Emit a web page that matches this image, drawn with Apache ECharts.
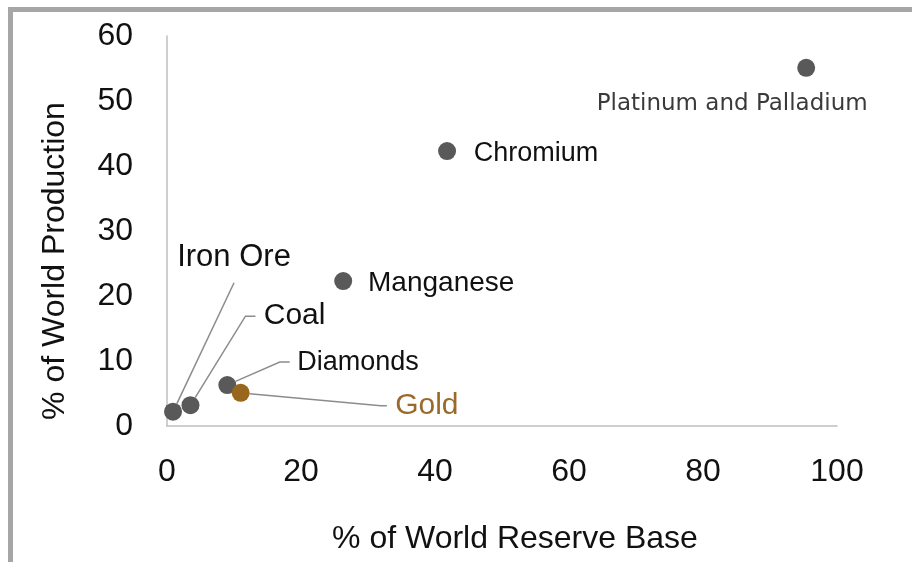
<!DOCTYPE html>
<html>
<head>
<meta charset="utf-8">
<script src="https://cdn.jsdelivr.net/npm/echarts@6/dist/echarts.min.js"></script>
<style>
  html, body { margin: 0; padding: 0; background: #ffffff; }
  #chart { width: 912px; height: 562px; }
</style>
</head>
<body>
<div id="chart"></div>
<script>
// Data
var names = ['Platinum and Palladium', 'Chromium', 'Manganese', 'Iron Ore', 'Coal', 'Diamonds', 'Gold'];
var reserveShare = [95.4, 41.8, 26.3, 0.9, 3.5, 9.0, 11.0];      // % of World Reserve Base
var productionShare = [55.1, 42.3, 22.3, 2.2, 3.2, 6.3, 5.1];    // % of World Production
var xTicks = [0, 20, 40, 60, 80, 100];
var yTicks = [0, 10, 20, 30, 40, 50, 60];
var xTitle = '% of World Reserve Base';
var yTitle = '% of World Production';

// Styling (presentation only)
var GRAY = '#595959';
var GOLD = '#98661c';
var LEADER = '#8c8c8c';
var labelStyle = {
  'Platinum and Palladium': { shift: [-74, 36], fontSize: 23, fontFamily: 'DejaVu Sans', color: '#3a3a3a', line: false },
  'Chromium':  { shift: [89, 2],    fontSize: 27, color: '#111111', line: false },
  'Manganese': { shift: [98, 2],    fontSize: 28, color: '#111111', line: false },
  'Iron Ore':  { shift: [61, -154], fontSize: 31, color: '#111111', line: true, lead: '', lineHeight: 50, len2: 0 },
  'Coal':      { shift: [100, -89], fontSize: 30, color: '#111111', line: true, lead: ' ', len2: 10 },
  'Diamonds':  { shift: [127, -23], fontSize: 27, color: '#111111', line: true, lead: ' ', len2: 10 },
  'Gold':      { shift: [182, 13],  fontSize: 30, color: '#9a6a2a', line: true, lead: ' ', len2: 6 }
};

var seriesData = names.map(function (n, i) {
  var s = labelStyle[n];
  var isGold = n === 'Gold';
  var lbl = {
    show: true,
    position: 'inside',
    formatter: (s.lead || '') + n,
    fontSize: s.fontSize,
    fontFamily: s.fontFamily || 'Liberation Sans, Arial, sans-serif',
    color: s.color
  };
  if (s.lineHeight) lbl.lineHeight = s.lineHeight;
  return {
    name: n,
    value: [reserveShare[i], productionShare[i]],
    itemStyle: { color: isGold ? GOLD : GRAY, opacity: 1 },
    label: lbl,
    labelLine: {
      show: s.line,
      length2: s.len2 || 0,
      lineStyle: { color: LEADER, width: 1.5, opacity: 1 }
    }
  };
});

var chart = echarts.init(document.getElementById('chart'), null, { renderer: 'canvas' });
chart.setOption({
  animation: false,
  backgroundColor: '#ffffff',
  textStyle: { fontFamily: 'Liberation Sans, Arial, sans-serif' },
  graphic: [
    { type: 'rect', shape: { x: 8, y: 7, width: 904, height: 5 }, style: { fill: '#a6a6a6' }, silent: true },
    { type: 'rect', shape: { x: 8, y: 7, width: 5, height: 555 }, style: { fill: '#a6a6a6' }, silent: true }
  ],
  grid: { left: 167, right: 75, top: 36, bottom: 136, containLabel: false },
  xAxis: {
    type: 'value',
    min: xTicks[0],
    max: xTicks[xTicks.length - 1],
    interval: xTicks[1] - xTicks[0],
    name: xTitle,
    nameLocation: 'middle',
    nameGap: 97,
    nameTextStyle: { fontSize: 32, color: '#111111', padding: [0, 0, 0, 26], fontFamily: 'Liberation Sans, Arial, sans-serif' },
    axisLine: { show: true, lineStyle: { color: '#bfbfbf', width: 1.5 } },
    axisTick: { show: false },
    splitLine: { show: false },
    axisLabel: { fontSize: 32, color: '#111111', margin: 30 }
  },
  yAxis: {
    type: 'value',
    min: yTicks[0],
    max: yTicks[yTicks.length - 1],
    interval: yTicks[1] - yTicks[0],
    name: yTitle,
    nameLocation: 'middle',
    nameRotate: 90,
    nameGap: 96,
    nameTextStyle: { fontSize: 32, color: '#111111', padding: [0, 60, 0, 0], fontFamily: 'Liberation Sans, Arial, sans-serif' },
    axisLine: { show: true, lineStyle: { color: '#bfbfbf', width: 1.5 } },
    axisTick: { show: false },
    splitLine: { show: false },
    axisLabel: { fontSize: 32, color: '#111111', margin: 34 }
  },
  series: [{
    type: 'scatter',
    symbol: 'circle',
    symbolSize: 18,
    itemStyle: { opacity: 1 },
    data: seriesData,
    labelLayout: function (params) {
      var s = labelStyle[names[params.dataIndex]];
      return { dx: s.shift[0], dy: s.shift[1] };
    },
    emphasis: { disabled: true }
  }]
});
</script>
</body>
</html>
